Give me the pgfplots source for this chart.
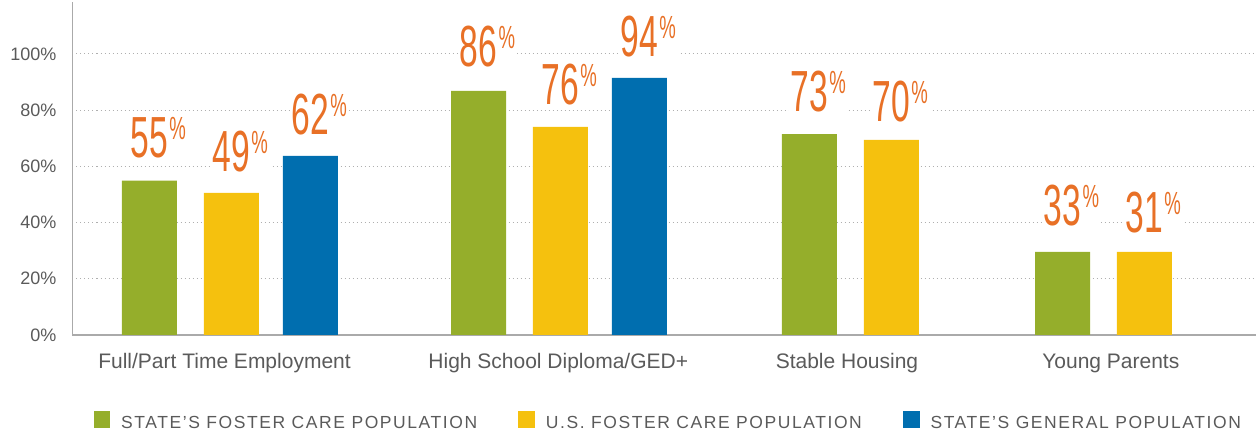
\documentclass[border=0pt]{standalone}
\usepackage{fontspec}
\setmainfont{Liberation Sans}
\newfontfamily\legfont[LetterSpace=9.0]{Liberation Sans}
\usepackage{graphicx}
\usepackage{pgfplots}
\pgfplotsset{compat=1.18}
\definecolor{cgreen}{RGB}{149,174,43}
\definecolor{cyellow}{RGB}{245,193,14}
\definecolor{cblue}{RGB}{0,110,175}
\definecolor{corange}{RGB}{232,112,38}
\definecolor{ctext}{RGB}{90,90,90}
\definecolor{caxis}{RGB}{170,170,170}
\definecolor{cgrid}{RGB}{175,175,175}
\newcommand\biglab[1]{\scalebox{0.58}[1]{\fontsize{58}{58}\selectfont #1\hspace{2pt}\raisebox{18pt}{\fontsize{32}{32}\selectfont\%}}}
\begin{document}
\begin{tikzpicture}
\begin{axis}[
 scale only axis, width=1183.5pt, height=333pt,
 xmin=72.5, xmax=1256, ymin=0, ymax=118.5,
 axis lines*=left,
 axis line style={caxis, line width=1.3pt},
 major tick length=0pt,
 ytick={0,20,40,60,80,100},
 yticklabels={0\%,20\%,40\%,60\%,80\%,100\%},
 yticklabel style={font=\fontsize{18}{18}\selectfont, text=ctext, anchor=east, inner sep=0pt, xshift=-16pt},
 xtick={224.5,558.3,847,1110.8},
 xticklabels={Full/Part Time Employment, High School Diploma/GED+, Stable Housing, Young Parents},
 xticklabel style={font=\fontsize{21}{21}\selectfont, text=ctext, anchor=base, inner sep=0pt, yshift=-33pt},
 ymajorgrids, major grid style={cgrid, line width=1pt, dash pattern=on 1pt off 3pt},
 clip=false,
 legend columns=3,
 legend image code/.code={\fill[#1] (0pt,-5pt) rectangle (16.7pt,11.7pt);},
 legend style={at={(axis description cs:0,0)}, anchor=north west, xshift=20.8pt, yshift=-76pt,
   draw=none, fill=none, inner sep=0pt, font=\legfont\fontsize{17.5}{17.5}\selectfont, text=ctext,
   /tikz/every even column/.append style={column sep=39pt},
   /tikz/every odd column/.append style={column sep=9pt}},
]
\addplot[ybar, bar width=55, bar shift=0pt, fill=cgreen, draw=none] coordinates {(149.3,54.9) (478.5,86.9) (809.3,71.5) (1062.5,29.6)};
\addlegendentry{STATE’S FOSTER CARE POPULATION}
\addplot[ybar, bar width=55, bar shift=0pt, fill=cyellow, draw=none] coordinates {(231.3,50.6) (560.3,74.1) (891.3,69.4) (1144.3,29.6)};
\addlegendentry{U.S. FOSTER CARE POPULATION}
\addplot[ybar, bar width=55, bar shift=0pt, fill=cblue, draw=none] coordinates {(310.3,63.7) (639.3,91.5)};
\addlegendentry{STATE’S GENERAL POPULATION}
\addplot[forget plot, draw=none, mark=none, nodes near coords={\biglab{\pgfplotspointmeta}}, point meta=explicit symbolic,
  nodes near coords style={anchor=base, text=corange, fill=white, inner sep=2pt, xshift=9pt}]
  coordinates {(149.3,63.3)[55] (231.3,58.1)[49] (310.3,71.2)[62] (478.5,95.5)[86] (560.3,81.9)[76] (639.3,99.0)[94] (809.3,79.5)[73] (891.3,75.9)[70] (1062.5,39.1)[33] (1144.3,36.3)[31]};
\end{axis}
\pgfresetboundingbox
\path[use as bounding box] ([shift={(-72.5pt,-96pt)}]current axis.south west) rectangle ++(1256pt,431pt);
\end{tikzpicture}
\end{document}
